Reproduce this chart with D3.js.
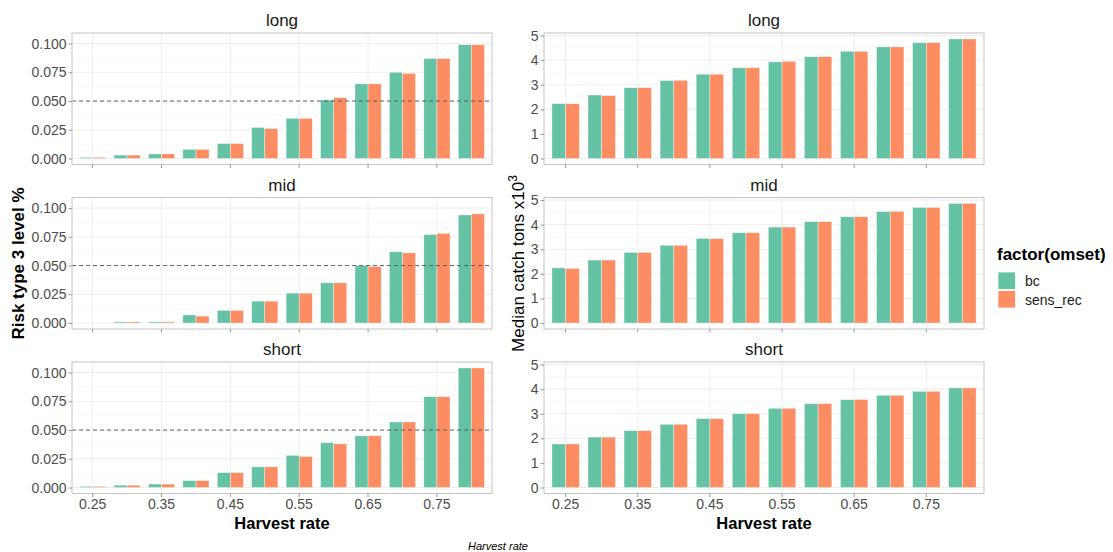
<!DOCTYPE html>
<html><head><meta charset="utf-8">
<script src="https://cdn.jsdelivr.net/npm/d3@7"></script>
<style>body{margin:0;background:#fff}text{font-family:"Liberation Sans",Arial,sans-serif}</style>
</head><body><svg id="c" width="1113" height="552"></svg>
<script>
const rates = ["0.25","0.3","0.35","0.4","0.45","0.5","0.55","0.6","0.65","0.7","0.75","0.8"];
const xTickLabels = ["0.25","0.35","0.45","0.55","0.65","0.75"];
const groups = ["bc","sens_rec"];
const facets = ["long","mid","short"];
const riskTicks = [0,0.025,0.05,0.075,0.1];
const catchTicks = [0,1,2,3,4,5];

const riskLongBc  = [0.001,0.003,0.004,0.008,0.013,0.027,0.035,0.051,0.065,0.075,0.087,0.099];
const riskLongSr  = [0.001,0.003,0.004,0.008,0.013,0.026,0.035,0.053,0.065,0.074,0.087,0.099];
const riskMidBc   = [0,0.001,0.001,0.007,0.011,0.019,0.026,0.035,0.050,0.062,0.077,0.094];
const riskMidSr   = [0,0.001,0.001,0.006,0.011,0.019,0.026,0.035,0.049,0.061,0.078,0.095];
const riskShortBc = [0.001,0.002,0.003,0.006,0.013,0.018,0.028,0.039,0.045,0.057,0.079,0.104];
const riskShortSr = [0.001,0.002,0.003,0.006,0.013,0.018,0.027,0.038,0.045,0.057,0.079,0.104];

const catchLongBc  = [2.23,2.58,2.88,3.17,3.43,3.69,3.93,4.14,4.36,4.54,4.71,4.86];
const catchLongSr  = [2.23,2.56,2.88,3.18,3.43,3.69,3.95,4.14,4.36,4.54,4.71,4.86];
const catchMidBc   = [2.24,2.56,2.87,3.16,3.44,3.67,3.90,4.12,4.32,4.53,4.70,4.86];
const catchMidSr   = [2.22,2.56,2.87,3.16,3.43,3.67,3.90,4.12,4.32,4.54,4.70,4.86];
const catchShortBc = [1.77,2.05,2.31,2.57,2.80,3.00,3.22,3.41,3.57,3.75,3.91,4.05];
const catchShortSr = [1.77,2.05,2.31,2.57,2.80,3.00,3.22,3.41,3.58,3.75,3.91,4.05];

const riskData = {long:[riskLongBc,riskLongSr], mid:[riskMidBc,riskMidSr], short:[riskShortBc,riskShortSr]};
const catchData = {long:[catchLongBc,catchLongSr], mid:[catchMidBc,catchMidSr], short:[catchShortBc,catchShortSr]};
const colors = {bc:"#66c2a5", sens_rec:"#fc8d62"};

const svg = d3.select("#c");
const tops = [33, 197.5, 362];
const ph = 131.5;
const color = d3.scaleOrdinal().domain(groups).range([colors.bc, colors.sens_rec]);

function drawColumn(x0, x1, dataMap, ticks, fmt, hline) {
  const all = facets.flatMap(f => dataMap[f].flat());
  const mx = d3.max(all);
  const x = d3.scaleBand().domain(rates).range([x0, x1]).paddingInner(0).paddingOuter(0.1);
  const bw = x.step() * 0.76;
  const xi = d3.scaleBand().domain(groups).range([0, bw]);
  facets.forEach((f, fi) => {
    const top = tops[fi];
    const y = d3.scaleLinear().domain([-mx * 0.05, mx * 1.05]).range([top + ph, top]);
    const g = svg.append("g");
    g.append("rect").attr("x", x0).attr("y", top).attr("width", x1 - x0).attr("height", ph).attr("fill", "#fff");
    // minor grid
    for (let i = 0; i < ticks.length - 1; i++) {
      const v = (ticks[i] + ticks[i + 1]) / 2;
      g.append("line").attr("x1", x0).attr("x2", x1).attr("y1", y(v)).attr("y2", y(v)).attr("stroke", "#f0f0f0").attr("stroke-width", 0.5);
    }
    g.selectAll(".gy").data(ticks).join("line").attr("x1", x0).attr("x2", x1)
      .attr("y1", d => y(d)).attr("y2", d => y(d)).attr("stroke", "#e3e3e3").attr("stroke-width", 0.6);
    g.selectAll(".gx").data(xTickLabels).join("line").attr("y1", top).attr("y2", top + ph)
      .attr("x1", d => x(d) + x.bandwidth() / 2).attr("x2", d => x(d) + x.bandwidth() / 2)
      .attr("stroke", "#e3e3e3").attr("stroke-width", 0.6);
    // bars
    groups.forEach((grp, gi) => {
      const vals = dataMap[f][gi];
      g.selectAll(".b" + gi).data(rates.map((r, i) => ({r, v: vals[i]})).filter(d => d.v > 0)).join("rect")
        .attr("x", d => x(d.r) + x.bandwidth() / 2 - bw / 2 + xi(grp))
        .attr("width", xi.bandwidth())
        .attr("y", d => y(d.v)).attr("height", d => y(0) - y(d.v))
        .attr("fill", color(grp)).attr("stroke", "#fff").attr("stroke-opacity", 0.6).attr("stroke-width", 0.6);
    });
    if (hline !== null) {
      g.append("line").attr("x1", x0).attr("x2", x1).attr("y1", y(hline)).attr("y2", y(hline))
        .attr("stroke", "#555").attr("stroke-width", 0.9).attr("stroke-dasharray", "4,3");
    }
    g.append("rect").attr("x", x0).attr("y", top).attr("width", x1 - x0).attr("height", ph)
      .attr("fill", "none").attr("stroke", "#c4c4c4").attr("stroke-width", 1);
    // y axis
    const ya = g.append("g").attr("transform", `translate(${x0},0)`)
      .call(d3.axisLeft(y).tickValues(ticks).tickFormat(fmt).tickSize(3.5).tickPadding(2));
    ya.select(".domain").remove();
    ya.selectAll("line").attr("stroke", "#999");
    ya.selectAll("text").attr("font-size", 14).attr("fill", "#4d4d4d").attr("font-family", "Liberation Sans, Arial, sans-serif");
    // x ticks
    const xa = g.append("g").attr("transform", `translate(0,${top + ph})`)
      .call(d3.axisBottom(x).tickValues(xTickLabels).tickSize(3.5).tickPadding(2));
    xa.select(".domain").remove();
    xa.selectAll("line").attr("stroke", "#999");
    if (fi < 2) xa.selectAll("text").remove();
    else xa.selectAll("text").attr("font-size", 14).attr("fill", "#4d4d4d").attr("font-family", "Liberation Sans, Arial, sans-serif");
    // strip
    g.append("text").attr("x", (x0 + x1) / 2).attr("y", top - 7).attr("text-anchor", "middle")
      .attr("font-size", 17).attr("fill", "#1a1a1a").text(f);
  });
  svg.append("text").attr("x", (x0 + x1) / 2).attr("y", 529).attr("text-anchor", "middle")
    .attr("font-size", 16.5).attr("font-weight", "bold").attr("fill", "#000").text("Harvest rate");
}

drawColumn(72, 492, riskData, riskTicks, d3.format(".3f"), 0.05);
drawColumn(544, 984, catchData, catchTicks, d3.format("d"), null);

svg.append("text").attr("transform", "translate(24,263.5) rotate(-90)").attr("text-anchor", "middle")
  .attr("font-size", 17).attr("font-weight", "bold").text("Risk type 3 level %");
const yl = svg.append("text").attr("transform", "translate(524,263.5) rotate(-90)").attr("text-anchor", "middle")
  .attr("font-size", 17);
yl.append("tspan").text("Median catch tons x10");
yl.append("tspan").attr("font-size", 12).attr("dy", -7).text("3");

// legend
svg.append("text").attr("x", 997).attr("y", 260).attr("font-size", 17).attr("font-weight", "bold").text("factor(omset)");
groups.forEach((grp, i) => {
  svg.append("rect").attr("x", 998).attr("y", 272 + i * 18.5).attr("width", 17.5).attr("height", 17.5)
    .attr("fill", color(grp)).attr("stroke", "#fff").attr("stroke-width", 0.8);
  svg.append("text").attr("x", 1025).attr("y", 286 + i * 18.5).attr("font-size", 14).attr("fill", "#1a1a1a").text(grp);
});

svg.append("text").attr("x", 498).attr("y", 550).attr("text-anchor", "middle").attr("font-size", 11)
  .attr("font-style", "italic").text("Harvest rate");
</script></body></html>
